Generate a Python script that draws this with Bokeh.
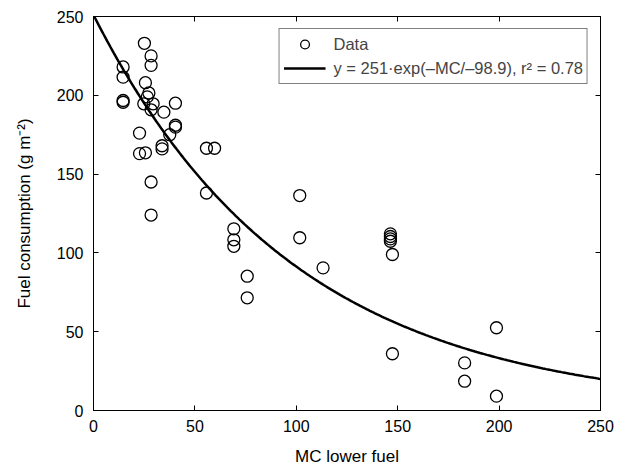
import numpy as np
from bokeh.plotting import figure
from bokeh.models import LinearAxis, Range1d, Legend, LegendItem, FixedTicker
from bokeh.embed import file_html
from bokeh.resources import INLINE

mc = [14.6, 14.6, 14.6, 14.6, 25.1, 28.4, 28.4, 25.6, 27.3, 26.5, 24.8, 29.4, 40.4,
      28.4, 34.7, 40.4, 40.4, 22.7, 37.6, 33.8, 33.8, 55.7, 59.7, 22.7, 25.6, 28.4,
      55.7, 28.4, 101.7, 69.2, 69.2, 69.2, 101.7, 113.2, 75.8, 75.8, 146.4, 146.4,
      146.4, 146.4, 147.4, 147.4, 198.7, 183.0, 183.0, 198.7]
fc = [218, 211.5, 196.7, 195.6, 233, 225, 219, 208, 201.5, 199, 194.6, 194.6, 195,
      190.8, 189.3, 181, 179.8, 176, 175, 168, 166, 166.4, 166.4, 163, 163.5, 145,
      138, 124, 136.4, 115.3, 108.3, 104.2, 109.6, 90.5, 85.2, 71.5, 112.1, 110.4,
      108.9, 107.4, 99, 36, 52.5, 30.2, 18.6, 9.1]
fit_a = 251.0
fit_b = 98.9
ticks = [0, 50, 100, 150, 200, 250]

FONT = "Liberation Sans"

p = figure(width=630, height=472, output_backend="svg", toolbar_location=None,
           x_range=Range1d(0, 250), y_range=Range1d(0, 250),
           min_border_left=93, min_border_right=30, min_border_top=16, min_border_bottom=62)
p.background_fill_color = "white"
p.border_fill_color = "white"
p.grid.visible = False
p.outline_line_color = "black"
p.outline_line_width = 1

for ax in (p.xaxis[0], p.yaxis[0]):
    ax.ticker = FixedTicker(ticks=ticks)
    ax.major_tick_in = 5
    ax.major_tick_out = 0
    ax.minor_tick_in = 0
    ax.minor_tick_out = 0
    ax.axis_line_color = "black"
    ax.major_tick_line_color = "black"
    ax.major_label_text_font = FONT
    ax.major_label_text_font_size = "16px"
    ax.major_label_text_color = "black"
    ax.axis_label_text_font = FONT
    ax.axis_label_text_font_size = "17px"
    ax.axis_label_text_font_style = "normal"
    ax.axis_label_text_color = "black"

p.xaxis[0].axis_label = "MC lower fuel"
p.yaxis[0].axis_label = "Fuel consumption (g m\u207b\u00b2)"
p.xaxis[0].major_label_standoff = 9
p.yaxis[0].major_label_standoff = 10
p.xaxis[0].axis_label_standoff = 12
p.yaxis[0].axis_label_standoff = 20

for loc in ("above", "right"):
    ax = LinearAxis(ticker=FixedTicker(ticks=ticks),
                    major_label_overrides={t: "" for t in ticks},
                    major_tick_in=5, major_tick_out=0, minor_tick_in=0, minor_tick_out=0,
                    axis_line_color="black", major_tick_line_color="black")
    ax.major_label_standoff = 0
    p.add_layout(ax, loc)

xs = np.linspace(0, 250, 300)
ys = fit_a * np.exp(-xs / fit_b)

r_pts = p.scatter(mc, fc, marker="circle", size=12, fill_color=None,
                  line_color="black", line_width=1.3)
r_line = p.line(xs, ys, line_color="black", line_width=2.5)

legend = Legend(items=[
    LegendItem(label="Data", renderers=[r_pts]),
    LegendItem(label="y = 251\u00b7exp(\u2013MC/\u201398.9), r\u00b2 = 0.78", renderers=[r_line]),
], location="top_right")
legend.label_text_font = FONT
legend.label_text_font_size = "16.5px"
legend.border_line_color = "black"
legend.border_line_width = 1
legend.margin = 12
legend.padding = 4
legend.spacing = 2
legend.glyph_width = 42
legend.label_height = 22
legend.glyph_height = 22
legend.label_standoff = 8
p.add_layout(legend)

open("out.html", "w").write(file_html(p, INLINE))
